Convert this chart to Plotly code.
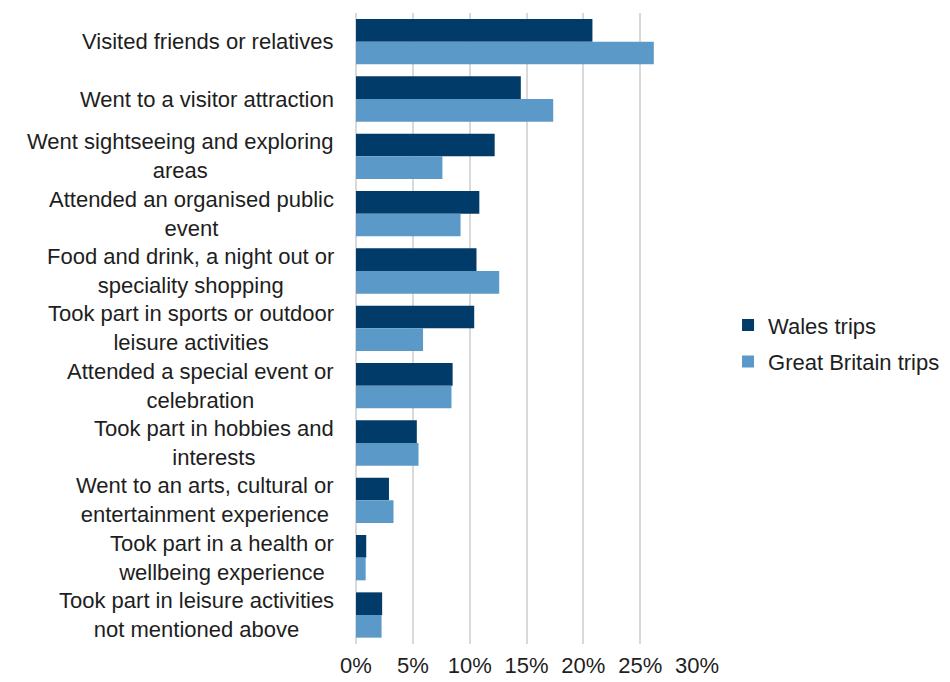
import plotly.graph_objects as go

categories = [
    "Visited friends or relatives",
    "Went to a visitor attraction",
    "Went sightseeing and exploring<br>areas",
    "Attended an organised public<br>event",
    "Food and drink, a night out or<br>speciality shopping",
    "Took part in sports or outdoor<br>leisure activities",
    "Attended a special event or<br>celebration",
    "Took part in hobbies and<br>interests",
    "Went to an arts, cultural or<br>entertainment experience",
    "Took part in a health or<br>wellbeing experience",
    "Took part in leisure activities<br>not mentioned above",
]
wales_trips = [20.8, 14.5, 12.2, 10.85, 10.6, 10.4, 8.5, 5.35, 2.9, 0.9, 2.3]
gb_trips = [26.2, 17.35, 7.6, 9.2, 12.6, 5.9, 8.4, 5.5, 3.3, 0.85, 2.25]
x_ticks = [0, 5, 10, 15, 20, 25, 30]
x_tick_labels = ["0%", "5%", "10%", "15%", "20%", "25%", "30%"]

FONT = "Liberation Sans, Arial, sans-serif"
TEXT_COLOR = "#1e1e1e"

fig = go.Figure()
fig.add_trace(go.Bar(
    y=categories, x=wales_trips, orientation="h", name="Wales trips",
    legendgroup="wales",
    marker=dict(color="#003b69", line=dict(width=0)),
))
fig.add_trace(go.Bar(
    y=categories, x=gb_trips, orientation="h", name="Great Britain trips",
    legendgroup="gb",
    marker=dict(color="#5b9ac8", line=dict(width=0)),
))

# Category labels: centre-aligned lines, right edge set against the axis
for cat in categories:
    fig.add_annotation(
        x=0, xref="paper", xanchor="right", xshift=-20,
        y=cat, yref="y", yanchor="middle",
        text=cat, align="center", showarrow=False,
        font=dict(family=FONT, size=22, color=TEXT_COLOR),
    )

fig.update_layout(
    width=950, height=682,
    margin=dict(l=356, r=253, t=13, b=38, autoexpand=False),
    paper_bgcolor="white", plot_bgcolor="white",
    barmode="group", bargap=0.21, bargroupgap=0,
    font=dict(family=FONT, size=22, color=TEXT_COLOR),
    showlegend=True,
    legend=dict(
        x=1.091, xanchor="left", y=0.476, yanchor="middle",
        font=dict(family=FONT, size=22, color=TEXT_COLOR),
        itemwidth=30, tracegroupgap=5, bgcolor="rgba(0,0,0,0)",
    ),
    xaxis=dict(
        range=[0, 30], tickvals=x_ticks, ticktext=x_tick_labels,
        showgrid=True, gridcolor="#d9d9d9", gridwidth=1.5,
        zeroline=True, zerolinecolor="#d9d9d9", zerolinewidth=1.5,
        showline=False, ticks="", tickfont=dict(size=22),
        ticklabelstandoff=6, automargin=False,
    ),
    yaxis=dict(
        autorange="reversed", showgrid=False, showline=False, ticks="",
        showticklabels=False, automargin=False,
    ),
)

fig.write_html("out.html")
